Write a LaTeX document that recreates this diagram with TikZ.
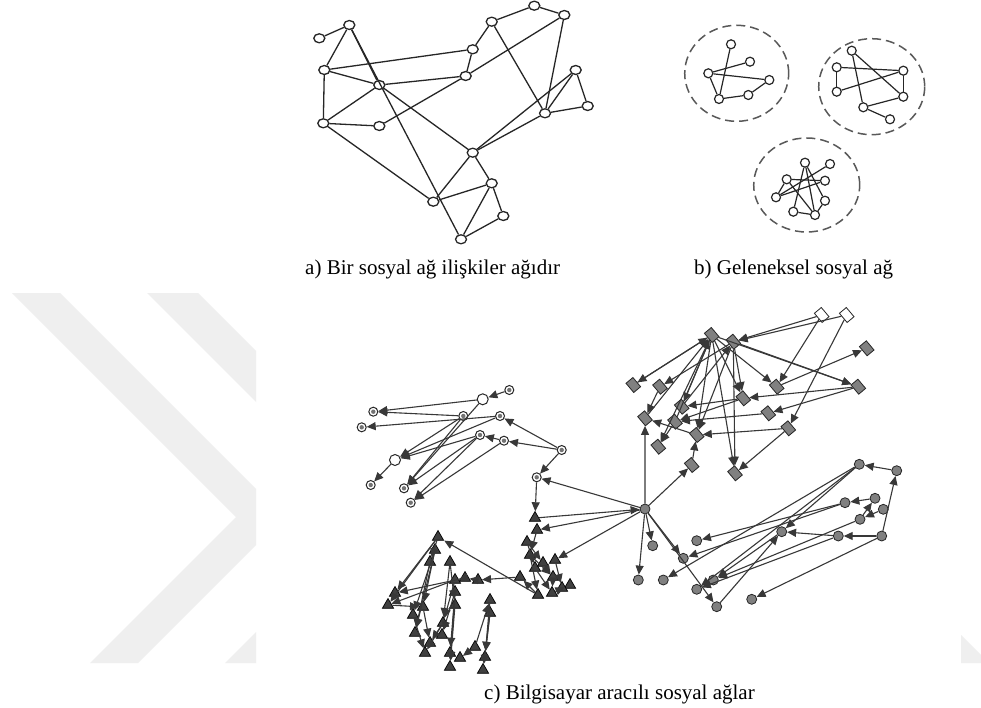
\documentclass[tikz,border=0pt]{standalone}
\usepackage{fontspec}
\setmainfont{Liberation Serif}
\usetikzlibrary{shapes.geometric,arrows.meta}
\definecolor{wm}{HTML}{EFEFEF}
\begin{document}
\begin{tikzpicture}[x=1pt,y=-1pt,
 an/.style={ellipse,draw=black!85,fill=white,line width=1.3pt,minimum width=11pt,minimum height=9pt,inner sep=0pt},
 ae/.style={draw=black!85,line width=1.3pt},
 bn/.style={circle,draw=black!85,fill=white,line width=1.2pt,minimum size=9pt,inner sep=0pt},
 be/.style={draw=black!85,line width=1.2pt},
 ring/.style={ellipse,draw=black!65,line width=1.5pt,dash pattern=on 9pt off 5pt,inner sep=0pt},
 cn/.style={circle,draw=black!85,fill=white,line width=1pt,minimum size=9pt,inner sep=0pt,path picture={\fill[black!55] (path picture bounding box.center) circle (2.2pt);}},
 co/.style={circle,draw=black!85,fill=white,line width=1pt,minimum size=11pt,inner sep=0pt},
 tn/.style={regular polygon,regular polygon sides=3,draw=black,fill=black!75,line width=0.7pt,minimum size=13pt,inner sep=0pt},
 dn/.style={rectangle,draw=black!85,fill=black!50,line width=0.8pt,minimum width=9pt,minimum height=12pt,inner sep=0pt,rotate=40},
 dw/.style={dn,fill=white},
 en/.style={circle,draw=black!85,fill=black!50,line width=0.8pt,minimum size=10pt,inner sep=0pt},
 ar/.style={draw=black!78,line width=1.1pt,-{Triangle[length=9pt,width=8pt]}},
 captxt/.style={font=\fontsize{21}{25}\selectfont,inner sep=0pt,anchor=base west}]
\useasboundingbox (0,0) rectangle (981,708);
\fill[white] (0,0) rectangle (981,708);
% watermark
\fill[wm] (12,293) -- (60,293) -- (256,489) -- (256,545) -- (138,663) -- (90,663) -- (236,517) -- cycle;
\fill[wm] (147,293) -- (198,293) -- (256,351) -- (256,402) -- cycle;
\fill[wm] (225,663) -- (256,632) -- (256,663) -- cycle;
\fill[wm] (961,635) -- (981,655) -- (981,663) -- (961,663) -- cycle;

% ---------- panel a ----------
\node[an] (a1) at (319.3,38.3) {};
\node[an] (a2) at (349.3,25) {};
\node[an] (a3) at (324.3,70) {};
\node[an] (a4) at (379.3,85) {};
\node[an] (a5) at (323.3,123.3) {};
\node[an] (a6) at (379.3,126) {};
\node[an] (a7) at (472.7,49.3) {};
\node[an] (a8) at (465.7,76) {};
\node[an] (a9) at (491.7,21.7) {};
\node[an] (a10) at (534.3,5.7) {};
\node[an] (a11) at (564.3,15) {};
\node[an] (a12) at (575.7,70) {};
\node[an] (a13) at (587.7,106) {};
\node[an] (a14) at (545,113.3) {};
\node[an] (a15) at (472.7,152.7) {};
\node[an] (a16) at (491.7,183.3) {};
\node[an] (a17) at (433.3,201.7) {};
\node[an] (a18) at (503.3,216) {};
\node[an] (a19) at (461,239.3) {};
\foreach \p/\q in {a1/a2,a2/a3,a2/a4,a2/a19,a3/a4,a3/a5,a3/a7,a4/a8,a5/a4,a5/a6,a5/a17,a6/a8,a8/a11,a7/a8,a7/a9,a9/a10,a10/a11,a9/a14,a11/a14,a12/a13,a12/a15,a12/a14,a13/a14,a14/a15,a4/a15,a15/a16,a15/a17,a17/a16,a16/a18,a16/a19,a18/a19}
  \draw[ae] (\p) -- (\q);

% ---------- panel b ----------
\node[ring,minimum width=104pt,minimum height=96pt] (r1) at (736.7,73.3) {};
\node[ring,minimum width=106pt,minimum height=96pt] (r2) at (871.7,86.7) {};
\node[ring,minimum width=106pt,minimum height=94pt] (r3) at (806.7,185) {};
\node[bn] (b1a) at (731,44.3) {};
\node[bn] (b1b) at (750,61.7) {};
\node[bn] (b1c) at (708.3,73.3) {};
\node[bn] (b1d) at (769.3,80) {};
\node[bn] (b1e) at (719,99) {};
\node[bn] (b1f) at (748.3,95) {};
\foreach \p/\q in {b1a/b1e,b1c/b1b,b1c/b1d,b1c/b1e,b1e/b1f,b1f/b1d}
  \draw[be] (\p) -- (\q);
\node[bn] (b2a) at (851.7,50.7) {};
\node[bn] (b2b) at (836.7,67.3) {};
\node[bn] (b2c) at (903.3,70.7) {};
\node[bn] (b2d) at (836.7,91.7) {};
\node[bn] (b2e) at (903.3,96.7) {};
\node[bn] (b2f) at (863.3,107.3) {};
\node[bn] (b2g) at (890,119.3) {};
\foreach \p/\q in {b2b/b2d,b2b/b2c,b2a/b2e,b2a/b2f,b2d/b2c,b2c/b2e,b2f/b2e,b2f/b2g}
  \draw[be] (\p) -- (\q);
\node[bn] (b3a) at (805,162.7) {};
\node[bn] (b3b) at (830,164) {};
\node[bn] (b3c) at (786.7,179.3) {};
\node[bn] (b3d) at (825,180.7) {};
\node[bn] (b3e) at (776,197.3) {};
\node[bn] (b3f) at (825,200.7) {};
\node[bn] (b3g) at (793.3,211.7) {};
\node[bn] (b3h) at (815,215) {};
\foreach \p/\q in {b3a/b3g,b3b/b3e,b3c/b3h,b3c/b3d,b3e/b3d,b3a/b3f,b3g/b3h,b3f/b3h,b3c/b3e,b3a/b3h}
  \draw[be] (\p) -- (\q);

\node[captxt] (capa) at (305,274) {a) Bir sosyal ağ ilişkiler ağıdır};
\node[captxt] (capb) at (694,274) {b) Geleneksel sosyal ağ};

% ---------- panel c ----------
\node[en] (h) at (645,509) {};
% circle-mark cluster
\node[co] (c1) at (482.7,399.3) {};
\node[cn] (c2) at (509.3,390) {};
\node[cn] (c3) at (373.3,411.7) {};
\node[cn] (c4) at (361.7,427.3) {};
\node[cn] (c5) at (463.3,416) {};
\node[cn] (c6) at (500,416) {};
\node[cn] (c7) at (480,435) {};
\node[cn] (c8) at (504,440.7) {};
\node[cn] (c9) at (561.7,450) {};
\node[co] (c10) at (395,460) {};
\node[cn] (c11) at (370.7,485) {};
\node[cn] (c12) at (404,488.3) {};
\node[cn] (c13) at (410.7,502.7) {};
\node[cn] (c14) at (536.7,477.3) {};
% triangles
\foreach \n/\x/\y in {t1/535/518,t2/537/530,t3/527/542,t4/530/555,t5/555/560,t6/535/568,t7/553/577,t8/538/595,t9/552/593,t10/570/585,t11/562/588,t12/438/537,t13/435/550,t14/450/562,t15/430/562,t16/465/578,t17/478/580,t18/455/580,t19/455/592,t20/395/593,t21/388/605,t22/413/615,t23/423/607,t24/443/623,t25/455/605,t26/415/633,t27/442/635,t28/430/643,t29/425/653,t30/450/653,t31/450/667,t32/460/658,t33/475/647,t34/490/600,t35/490/613,t36/485/657,t37/483/670,t38/520/577,t39/543/563}
  \node[tn] (\n) at (\x,\y) {};
% diamonds
\node[dw] (d1) at (821.7,315) {};
\node[dw] (d2) at (846.7,315) {};
\foreach \n/\x/\y in {d3/711.7/335,d4/733.3/341.7,d5/866.7/348.3,d6/633.3/385,d7/660/386.7,d8/776.7/386.7,d9/858.3/386.7,d10/743.3/398.3,d11/681.7/406.7,d12/768.3/413.3,d13/645/418.3,d14/675/421.7,d15/696.7/435,d16/788.3/428.3,d17/658.3/446.7,d18/691.7/465,d19/735/473.3}
  \node[dn] (\n) at (\x,\y) {};
% gray circles
\foreach \n/\x/\y in {e1/859.3/464.3,e2/896.7/470.7,e3/845/502.7,e4/875/498.3,e5/883.3/509.3,e6/860/519.3,e7/838.3/536,e8/881.7/536,e9/781.7/531.7,e10/696.7/540.7,e11/652.7/545.7,e12/683.3/558.3,e13/638.3/580,e14/663.3/580,e15/713.3/580,e16/696.7/589.3,e17/751.7/599.3,e18/716.7/606.7}
  \node[en] (\n) at (\x,\y) {};

% arrows: circle-mark cluster
\foreach \p/\q in {c2/c1,c1/c3,c5/c3,c6/c4,c5/c10,c6/c10,c7/c10,c1/c12,c7/c12,c7/c13,c8/c13,c9/c8,c8/c7,c9/c6,c10/c11,c9/c14,c14/t1,h/c14,c5/c12}
  \draw[ar] (\p) -- (\q);
% arrows: triangles
\foreach \p/\q in {h/t2,t1/h,h/t5,t2/t4,t3/t6,t4/t8,t6/t9,t7/t9,t39/t7,t5/t11,t9/t10,t8/t12,t38/t17,t17/t16,t16/t18,t12/t20,t12/t15,t13/t23,t13/t22,t14/t25,t14/t24,t18/t21,t16/t20,t15/t26,t19/t27,t19/t30,t25/t31,t23/t28,t24/t29,t33/t32,t34/t36,t35/t37,t33/t34,t8/t38,t3/t39,t24/t28,t12/t21,t13/t26,t18/t24,t19/t31,t21/t23,t22/t29,t35/t36,t4/t7}
  \draw[ar] (\p) -- (\q);
% arrows: diamonds
\foreach \p/\q in {d3/d6,d4/d7,d3/d8,d3/d9,d4/d9,d3/d10,d3/d19,d4/d19,d1/d4,d2/d4,d2/d16,d1/d8,d8/d5,d9/d12,d16/d19,d10/d11,d3/d15,d3/d11,d15/d13,h/d13,h/d18,d18/d15,d9/d10,d16/d15,d13/d3,d12/d14,d7/d13,d14/d17,d4/d10,d4/d15,d11/d4,d14/d3,d6/d3,d3/d17,d10/d14}
  \draw[ar] (\p) -- (\q);
% arrows: gray circles
\foreach \p/\q in {e2/e1,e8/e2,e8/e7,e1/e14,e1/e9,e3/e10,e6/e15,e7/e16,e8/e17,e18/e9,e4/e3,e5/e6,h/e11,h/e13,h/e18,h/e12,e3/e12,e9/e15,e6/e4,e1/e16,e7/e9}
  \draw[ar] (\p) -- (\q);

\node[captxt] (capc) at (484,699) {c) Bilgisayar aracılı sosyal ağlar};
\end{tikzpicture}
\end{document}
